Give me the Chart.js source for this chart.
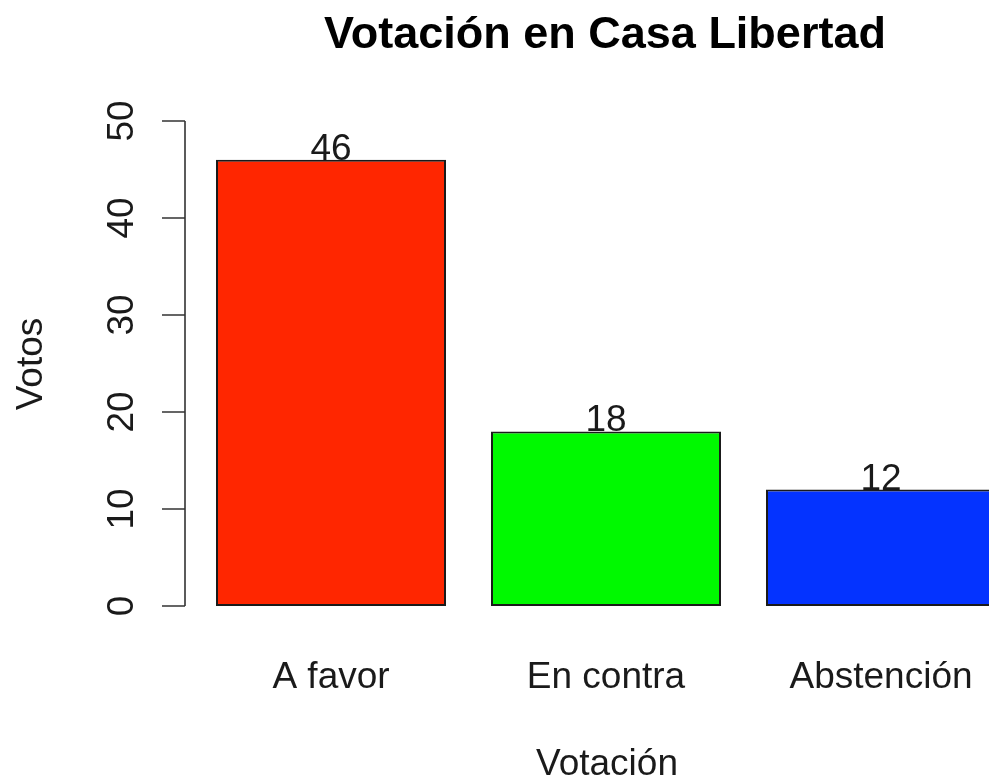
<!DOCTYPE html>
<html>
<head>
<meta charset="utf-8">
<script src="https://cdn.jsdelivr.net/npm/chart.js@4.4.1/dist/chart.umd.min.js"></script>
<style>
  html, body { margin: 0; padding: 0; background: #fff; overflow: hidden; }
  #wrap { width: 989px; height: 783px; overflow: hidden; }
</style>
</head>
<body>
<div id="wrap"><canvas id="c" width="1100" height="783"></canvas></div>
<script>
// datos de la votación
const categories = ['A favor', 'En contra', 'Abstención'];
const votes = [46, 18, 12];
const barColors = ['#FF2600', '#00F900', '#0433FF'];
const yTicks = [0, 10, 20, 30, 40, 50];

const FONT = '"Liberation Sans", Arial, Helvetica, sans-serif';

// ejes al estilo de R base
const rAxes = {
    id: 'rAxes',
    afterDraw(chart) {
        const ctx = chart.ctx;
        const x = chart.scales.x;
        const y = chart.scales.y;
        const area = chart.chartArea;
        const axisX = area.left - 8.5;

        ctx.save();
        ctx.strokeStyle = '#333';
        ctx.lineWidth = 1.6;
        ctx.beginPath();
        ctx.moveTo(axisX, y.getPixelForValue(yTicks[0]));
        ctx.lineTo(axisX, y.getPixelForValue(yTicks[yTicks.length - 1]));
        yTicks.forEach(v => {
            const py = y.getPixelForValue(v);
            ctx.moveTo(axisX, py);
            ctx.lineTo(axisX - 23, py);
        });
        ctx.stroke();

        ctx.fillStyle = '#1a1a1a';
        ctx.font = '37px ' + FONT;
        ctx.textAlign = 'center';
        ctx.textBaseline = 'alphabetic';
        yTicks.forEach(v => {
            const py = y.getPixelForValue(v);
            ctx.save();
            ctx.translate(axisX - 52, py);
            ctx.rotate(-Math.PI / 2);
            ctx.fillText(String(v), 0, 0);
            ctx.restore();
        });

        // nombres de categorías
        categories.forEach((c, i) => {
            ctx.fillText(c, x.getPixelForValue(i), y.getPixelForValue(0) + 82);
        });

        // valores encima de las barras
        votes.forEach((v, i) => {
            ctx.fillText(String(v), x.getPixelForValue(i), y.getPixelForValue(v));
        });

        // títulos de ejes
        ctx.fillText('Votación', 607, 775);
        ctx.save();
        ctx.translate(42, 364);
        ctx.rotate(-Math.PI / 2);
        ctx.fillText('Votos', 0, 0);
        ctx.restore();

        ctx.font = 'bold 45px ' + FONT;
        ctx.fillStyle = '#000';
        ctx.fillText('Votación en Casa Libertad', 605, 48);
        ctx.restore();
    }
};

new Chart(document.getElementById('c'), {
    type: 'bar',
    data: {
        labels: categories,
        datasets: [{
            data: votes,
            backgroundColor: barColors,
            borderColor: '#1a1a1a',
            borderWidth: 2,
            borderSkipped: false,
            barPercentage: 230 / 275,
            categoryPercentage: 1
        }]
    },
    options: {
        responsive: false,
        animation: false,
        layout: { padding: { left: 193.5, right: 81.5, top: 121, bottom: 177 } },
        plugins: { legend: { display: false }, tooltip: { enabled: false }, title: { display: false } },
        scales: {
            x: { display: false, offset: true },
            y: { display: false, min: 0, max: 50 }
        }
    },
    plugins: [rAxes]
});
</script>
</body>
</html>
